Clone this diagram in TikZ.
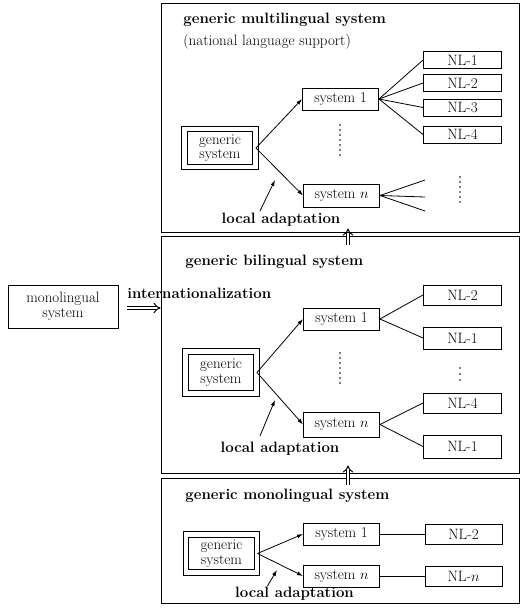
\documentclass[tikz,border=0pt]{standalone}
\usepackage{tikz}
\usetikzlibrary{arrows.meta}

\begin{document}
\begin{tikzpicture}[x=1pt,y=-1pt,line width=0.8pt,
  txt/.style={font=\fontsize{15}{14.5}\selectfont,inner sep=0,align=center},
  titre/.style={font=\fontsize{15}{18}\selectfont\bfseries,anchor=west,inner sep=0},
  panel/.style={draw,line width=1pt,minimum width=358},
  sys/.style={draw,txt,line width=0.9pt,minimum width=76,minimum height=22},
  nl/.style={draw,txt,line width=0.9pt,minimum width=78,minimum height=20},
  gen/.style={draw,txt,double,double distance=4.5pt,line width=0.9pt,minimum width=71,minimum height=38},
  arr/.style={-{Latex[length=6pt,width=4pt]}},
  dbl/.style={double,double distance=2.5pt,line width=1pt,-{Implies}}]
\useasboundingbox (0,0) rectangle (523,614);

% the three panels
\node[panel,minimum height=229] (p1) at (340,117.5) {};
\node[panel,minimum height=237] (p2) at (340,354.5) {};
\node[panel,minimum height=125] (p3) at (340,540.5) {};

% monolingual system and internationalization
\node[draw,txt,line width=0.9pt,minimum width=110,minimum height=43] (mono) at (63,306.5) {monolingual\\system};
\draw[dbl] ([xshift=9pt,yshift=-1.5pt]mono.east) -- ([yshift=-1.5pt]mono.east -| p2.west);
\node[titre] (intl) at (127,293) {internationalization};

% top: multilingual
\node[titre] (t1) at (183,20) {generic multilingual system};
\node[titre,font=\fontsize{15}{18}\selectfont] (t1b) at (183,42) {(national language support)};
\node[gen] (g1) at (220,148) {generic\\system};
\node[sys] (s1a) at (340.5,99) {system 1};
\node[sys,minimum height=23] (s1n) at (341.5,195.5) {system $n$};
\draw[arr] (g1.east) -- (s1a.west);
\draw[arr] (g1.east) -- (s1n.west);
\foreach \y/\k in {60/1,83/2,107.5/3,134.5/4} {\node[nl,minimum height=17] (nla\k) at (462.5,\y) {NL-\k}; \draw (s1a.east) -- (nla\k.west);}
\foreach \y [count=\i] in {180,197,211} {\coordinate (fa\i) at (425,\y); \draw (s1n.east) -- (fa\i);}
\foreach \y in {125,130,...,157} \fill (340,\y) circle (0.9);
\foreach \y in {177,182,...,203} \fill (460,\y) circle (0.9);
\node[titre,anchor=center] (la1) at (281,220) {local adaptation};
\coordinate (la1t) at (275,180);
\draw[arr] ([xshift=-21pt,yshift=2pt]la1.north) -- (la1t);

% between top and middle
\draw[dbl] ([xshift=8pt,yshift=-9pt]p2.north) -- ([xshift=8pt,yshift=4pt]p1.south);

% middle: bilingual
\node[titre] (t2) at (185,262) {generic bilingual system};
\node[gen,minimum height=42] (g2) at (221,372.5) {generic\\system};
\node[sys] (s2a) at (341.5,319) {system 1};
\node[sys,minimum height=25] (s2n) at (341.5,424.5) {system $n$};
\draw[arr] (g2.east) -- (s2a.west);
\draw[arr] (g2.east) -- (s2n.west);
\node[nl] (nlb1) at (462.5,295) {NL-2};
\node[nl,minimum height=22] (nlb2) at (462.5,338) {NL-1};
\node[nl] (nlb3) at (462.5,403) {NL-4};
\node[nl,minimum height=23] (nlb4) at (462.5,446.5) {NL-1};
\draw (s2a.east) -- (nlb1.west);
\draw (s2a.east) -- (nlb2.west);
\draw (s2n.east) -- (nlb3.west);
\draw (s2n.east) -- (nlb4.west);
\foreach \y in {353,358,...,385} \fill (340,\y) circle (0.9);
\foreach \y in {368,374,380} \fill (460,\y) circle (0.9);
\node[titre,anchor=center] (la2) at (280,449) {local adaptation};
\coordinate (la2t) at (275,400);
\draw[arr] ([xshift=-20pt,yshift=6pt]la2.north) -- (la2t);

% between middle and bottom
\draw[dbl] ([xshift=8pt,yshift=-7pt]p3.north) -- ([xshift=8pt,yshift=8pt]p2.south);

% bottom: monolingual
\node[titre] (t3) at (185,496) {generic monolingual system};
\node[gen] (g3) at (221.5,553.5) {generic\\system};
\node[sys] (s3a) at (341.5,534) {system 1};
\node[sys] (s3n) at (341.5,576) {system $n$};
\draw[arr] (g3.east) -- (s3a.west);
\draw[arr] (g3.east) -- (s3n.west);
\node[nl,minimum width=77] (nlc1) at (463.5,534) {NL-2};
\node[nl,minimum width=77] (nlc2) at (463.5,576) {NL-$n$};
\draw (s3a.east) -- (nlc1.west);
\draw (s3n.east) -- (nlc2.west);
\node[titre,anchor=center] (la3) at (294.5,594) {local adaptation};
\coordinate (la3t) at (277,570);
\draw[arr] ([xshift=-27pt,yshift=1pt]la3.north) -- (la3t);
\end{tikzpicture}
\end{document}
